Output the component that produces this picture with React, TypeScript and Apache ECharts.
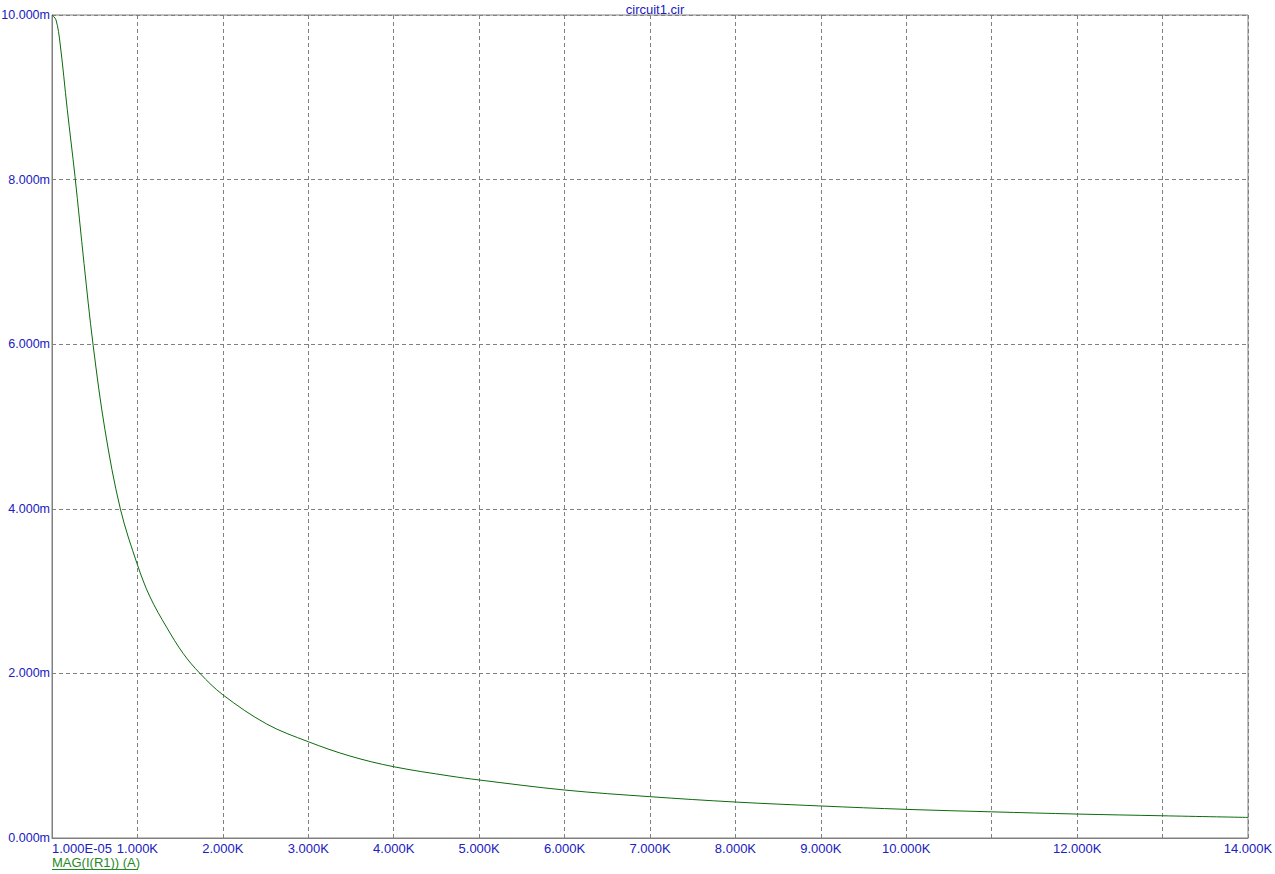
import React, { useEffect, useRef } from "react";
import * as echarts from "echarts";

// Frequency (Hz) and MAG(I(R1)) in milliamps
const frequencyHz = [
  0.00001, 47, 94, 179, 269, 375, 480, 620, 800, 1000, 1147, 1342, 1537, 1732,
  2000, 2513, 3000, 3488, 4000, 4659, 5000, 6000, 7000, 8000, 9000, 10000,
  11000, 12000, 13000, 14000,
];
const currentMilliAmps = [
  10.0, 9.94, 9.66, 8.85, 8.04, 6.98, 6.0, 4.96, 4.0, 3.32, 2.93, 2.56, 2.24,
  2.0, 1.74, 1.385, 1.17, 0.996, 0.866, 0.753, 0.705, 0.583, 0.502, 0.437,
  0.389, 0.348, 0.318, 0.291, 0.27, 0.25,
];
const hiddenXLabels = [11000, 13000];
const chartTitle = "circuit1.cir";
const traceName = "MAG(I(R1)) (A)";

const BLUE = "#2020c0";
const GREEN_TEXT = "#1f8a1f";
const TRACE = "#0b6b0b";
const GRAY = "#808080";
const FONT = "'Liberation Sans', Arial, sans-serif";

export default function App() {
  const ref = useRef<HTMLDivElement>(null);
  useEffect(() => {
    if (!ref.current) return;
    const chart = echarts.init(ref.current, undefined, { renderer: "svg" });
    const data = frequencyHz.map((f, i) => [f, currentMilliAmps[i]]);
    chart.setOption({
      animation: false,
      backgroundColor: "#ffffff",
      title: {
        text: chartTitle,
        left: 650,
        textAlign: "center",
        top: -2,
        textStyle: { color: BLUE, fontSize: 13, fontWeight: "normal", fontFamily: FONT },
      },
      grid: {
        left: 52,
        right: 27,
        top: 15,
        bottom: 36,
        show: true,
        borderColor: GRAY,
        borderWidth: 1,
        containLabel: false,
        outerBoundsMode: "none",
      },
      xAxis: {
        type: "value",
        min: 0,
        max: 14000,
        interval: 1000,
        axisLine: { show: true, lineStyle: { color: GRAY, width: 1 } },
        axisTick: { show: false },
        splitLine: { show: true, lineStyle: { color: GRAY, type: [4, 3], width: 1 } },
        axisLabel: {
          color: BLUE,
          fontSize: 13,
          fontFamily: FONT,
          margin: 4,
          alignMinLabel: "left",
          showMinLabel: true,
          showMaxLabel: true,
          hideOverlap: false,
          formatter: (v: number) => {
            if (v === 0) return "1.000E-05";
            if (hiddenXLabels.includes(v)) return "";
            return (v / 1000).toFixed(3) + "K";
          },
        },
      },
      yAxis: {
        type: "value",
        min: 0,
        max: 10,
        interval: 2,
        axisLine: { show: true, lineStyle: { color: GRAY, width: 1 } },
        axisTick: { show: false },
        splitLine: { show: true, lineStyle: { color: GRAY, type: [4, 3], width: 1 } },
        axisLabel: {
          color: BLUE,
          fontSize: 12.5,
          fontFamily: FONT,
          margin: 2,
          formatter: (v: number) => v.toFixed(3) + "m",
        },
      },
      series: [
        {
          type: "line",
          name: traceName,
          data,
          smooth: 0.35,
          showSymbol: false,
          symbol: "none",
          lineStyle: { color: TRACE, width: 1 },
          clip: true,
        },
      ],
      graphic: [
        {
          type: "text",
          left: 52,
          top: 856,
          style: { text: traceName, fill: GREEN_TEXT, fontSize: 13, fontFamily: FONT },
        },
        {
          type: "line",
          shape: { x1: 52, y1: 869.5, x2: 138, y2: 869.5 },
          style: { stroke: GREEN_TEXT, lineWidth: 1 },
        },
      ],
    });
    return () => chart.dispose();
  }, []);
  return (
    <div
      ref={ref}
      style={{ position: "absolute", left: 0, top: 0, width: 1275, height: 874 }}
    />
  );
}
